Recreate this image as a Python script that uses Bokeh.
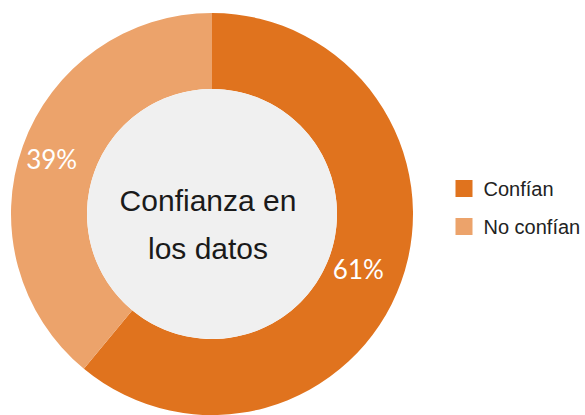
from bokeh.plotting import figure
from bokeh.models import ColumnDataSource, Range1d
from bokeh.core.properties import value
from bokeh.embed import file_html
from bokeh.resources import INLINE
import math

categories = ["Confían", "No confían"]
values = [61, 39]
labels = ["61%", "39%"]
colors = ["#e0731e", "#eca36b"]
center_title = ["Confianza en", "los datos"]

W, H = 585, 415
cx, cy = 211.5, H - 213.5
r_out, r_in = 201, 125

total = sum(values)
starts, ends, lx, ly = [], [], [], []
acc = 0.0
for v in values:
    a0 = math.pi / 2 - 2 * math.pi * acc / total
    a1 = math.pi / 2 - 2 * math.pi * (acc + v) / total
    starts.append(a1)
    ends.append(a0)
    mid = (a0 + a1) / 2
    rm = (r_out + r_in) / 2
    lx.append(cx + rm * math.cos(mid) - 7)
    ly.append(cy + rm * math.sin(mid))
    acc += v

src = ColumnDataSource(dict(cat=categories, start=starts, end=ends, color=colors,
                            lx=lx, ly=ly, lab=labels))

p = figure(width=W, height=H, output_backend="svg", toolbar_location=None,
           x_range=Range1d(0, W), y_range=Range1d(0, H), min_border=0)
p.axis.visible = False
p.grid.visible = False
p.outline_line_color = None
p.background_fill_color = "white"

p.annular_wedge(x=cx, y=cy, inner_radius=r_in, outer_radius=r_out,
                start_angle="start", end_angle="end", fill_color="color",
                line_color=None, source=src)
p.circle(x=[cx], y=[cy], radius=r_in, fill_color="#f0f0f0", line_color=None)

p.text(x="lx", y="ly", text="lab", source=src, text_color="white",
       text_font=value("Lato"), text_font_size="26px",
       text_align="center", text_baseline="middle")

p.text(x=[cx - 4, cx - 4], y=[cy + 14, cy - 34], text=center_title,
       text_color="#1a1a1a", text_font=value("Liberation Sans"), text_font_size="30px",
       text_align="center", text_baseline="middle")

# legend
leg_y = [H - 188, H - 226]
leg_src = ColumnDataSource(dict(x=[463.5] * 2, y=leg_y, tx=[483] * 2,
                                color=colors, cat=categories))
p.rect(x="x", y="y", width=17, height=17, fill_color="color", line_color=None,
       source=leg_src)
p.text(x="tx", y="y", text="cat", source=leg_src, text_color="#222222",
       text_font=value("Liberation Sans"), text_font_size="20px",
       text_align="left", text_baseline="middle")

open("out.html", "w").write(file_html(p, INLINE))
